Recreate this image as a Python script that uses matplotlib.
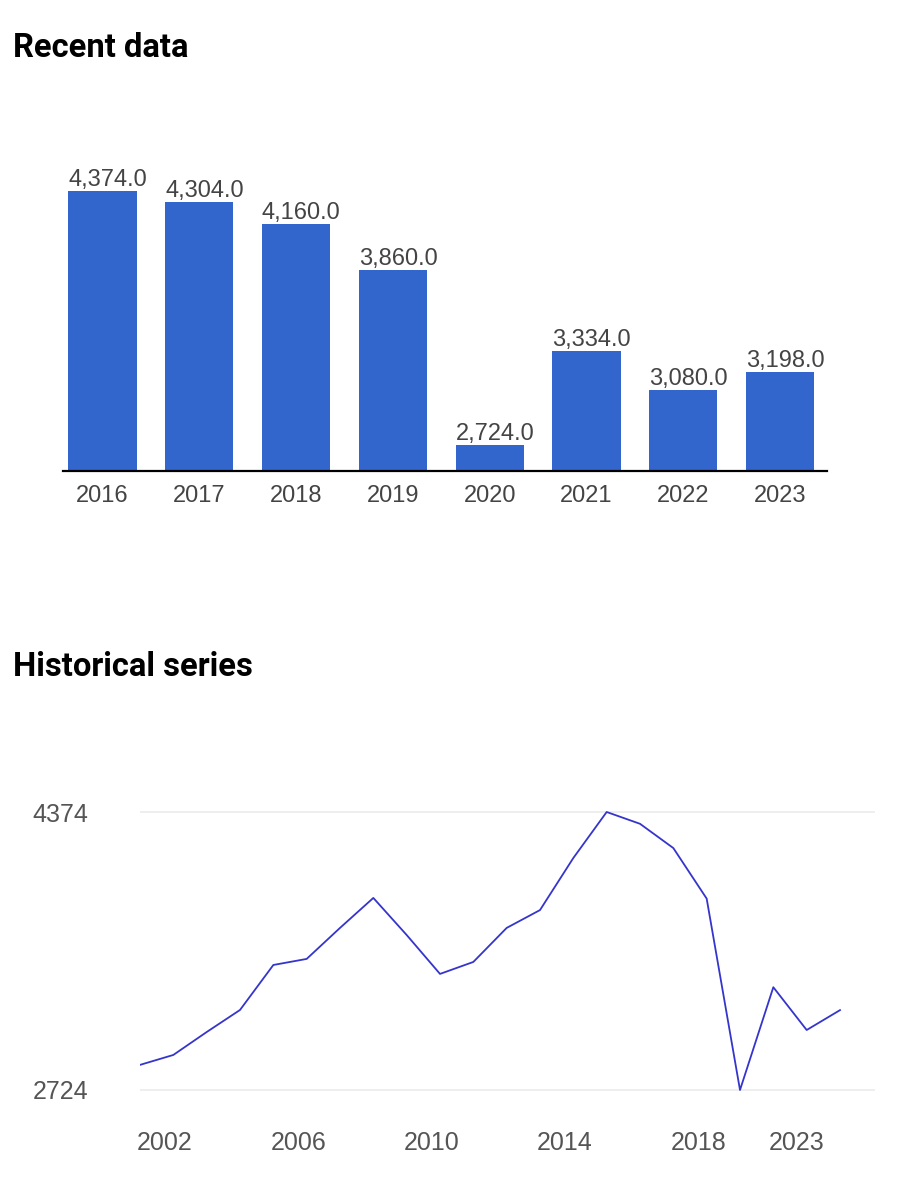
import numpy as np
import matplotlib.pyplot as plt

# ---- data ----
recent_years = ['2016', '2017', '2018', '2019', '2020', '2021', '2022', '2023']
recent_values = [4374.0, 4304.0, 4160.0, 3860.0, 2724.0, 3334.0, 3080.0, 3198.0]

hist_years = list(range(2002, 2024))
hist_values = [2873, 2932, 3068, 3199, 3466, 3502, 3686, 3864, 3644, 3413, 3484,
               3686, 3792, 4101, 4374, 4304, 4160, 3860, 2724, 3334, 3080, 3198]
hist_tick_pos = [2002.75, 2006.75, 2010.75, 2014.75, 2018.75, 2021.7]
hist_tick_labels = ['2002', '2006', '2010', '2014', '2018', '2023']
hist_yticks = [2724, 4374]

W, H = 913, 1200
fig = plt.figure(figsize=(W / 100, H / 100), dpi=100)
fig.patch.set_facecolor('white')

def px_axes(left, top, right, bottom):
    return fig.add_axes([left / W, 1 - bottom / H, (right - left) / W, (bottom - top) / H])

label_font = ['Liberation Sans', 'DejaVu Sans']
narrow_font = ['Liberation Sans Narrow', 'Liberation Sans', 'DejaVu Sans']

#-----titles-----
fig.text(13 / W, 1 - 57 / H, 'Recent data', va='baseline', ha='left',
         fontsize=23.6, fontweight='bold', family=['Roboto', 'DejaVu Sans'], color='black')
fig.text(13 / W, 1 - 676 / H, 'Historical series', va='baseline', ha='left',
         fontsize=23.6, fontweight='bold', family=['Roboto', 'DejaVu Sans'], color='black')

#-----bar chart-----
ax1 = px_axes(63, 150, 827, 471)
x = np.arange(len(recent_years))
bw = 0.706
ax1.bar(x, recent_values, width=bw, color='#3366cc', zorder=2)
ax1.set_xlim(-0.408, 7.485)
ax1.set_ylim(2552, 4640)
for xi, v in zip(x, recent_values):
    ax1.annotate(f'{v:,.1f}', xy=(xi - bw / 2, v), xytext=(0, 3.5),
                 textcoords='offset points', ha='left', va='baseline',
                 fontsize=17, color='#444444', family=label_font)
ax1.set_xticks(x)
ax1.set_xticklabels(recent_years, fontsize=17, color='#444444', family=label_font)
ax1.tick_params(axis='x', length=0, pad=10)
ax1.set_yticks([])
for s in ['top', 'left', 'right']:
    ax1.spines[s].set_visible(False)
ax1.spines['bottom'].set_color('black')
ax1.spines['bottom'].set_linewidth(1.6)
ax1.spines['bottom'].set_zorder(3)

#-----line chart-----
ax2 = px_axes(140, 790, 875, 1100)
ax2.plot(hist_years, hist_values, color='#3535cc', linewidth=1.3, zorder=3)
ax2.set_xlim(2002, 2024.05)
ax2.set_ylim(2664.6, 4504.6)
for yv in hist_yticks:
    ax2.axhline(yv, color='#ebebeb', linewidth=1.2, zorder=1)
ax2.set_yticks(hist_yticks)
ax2.set_yticklabels([str(v) for v in hist_yticks], fontsize=18, color='#555555', family=narrow_font)
ax2.set_xticks(hist_tick_pos)
ax2.set_xticklabels(hist_tick_labels, fontsize=18, color='#555555', family=narrow_font)
ax2.tick_params(axis='y', length=0, pad=37)
ax2.tick_params(axis='x', length=0, pad=22)
for s in ax2.spines.values():
    s.set_visible(False)

plt.savefig('out.png', dpi=100, facecolor='white')
